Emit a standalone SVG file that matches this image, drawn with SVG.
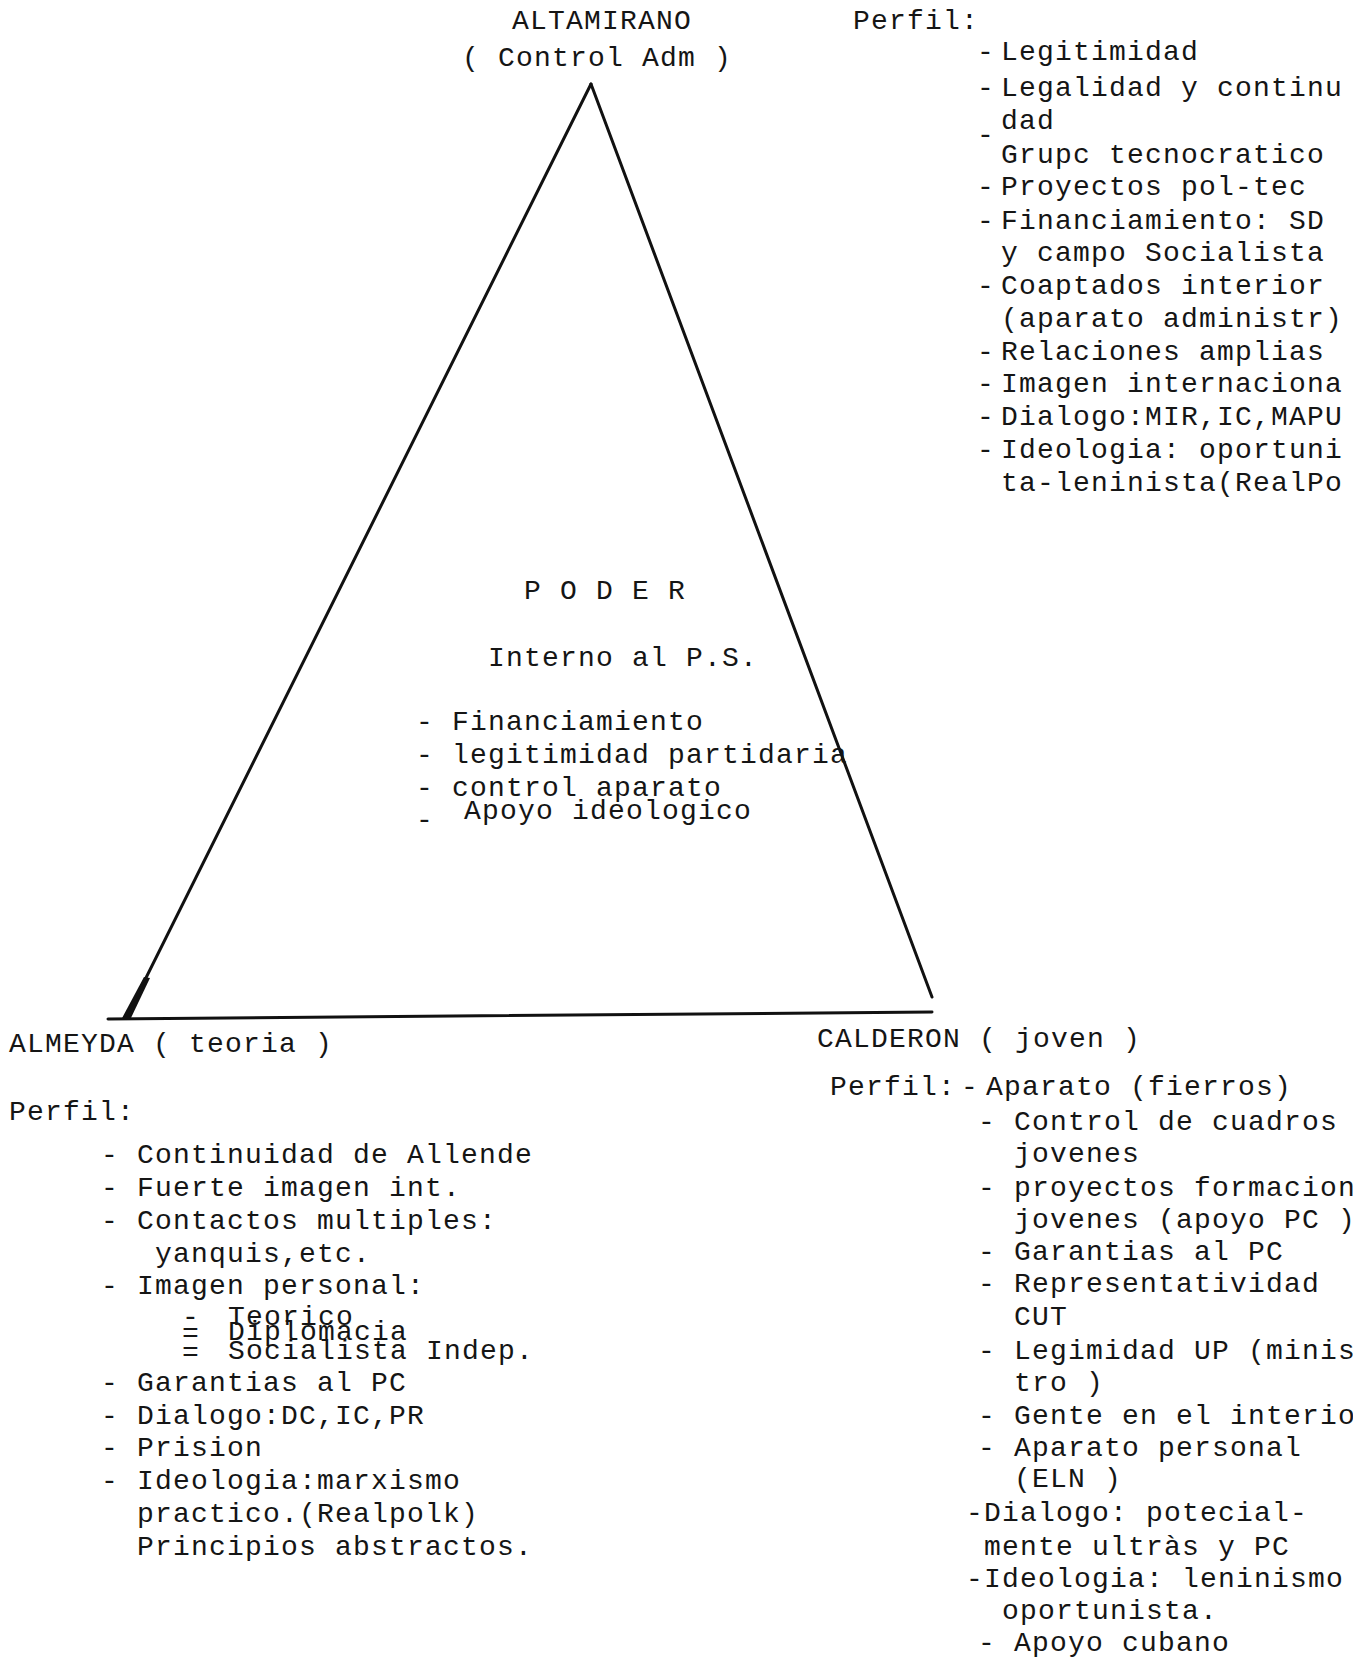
<svg xmlns="http://www.w3.org/2000/svg" width="1353" height="1660" viewBox="0 0 1353 1660" xml:space="preserve">
<style>
.t{font-family:"Liberation Mono","Courier New",monospace;font-size:28px;letter-spacing:1.2px;fill:#151515;white-space:pre}
.ln{stroke:#111;stroke-width:3;fill:none;stroke-linecap:round}
</style>
<rect width="1353" height="1660" fill="#fff"/>
<g id="connectors">
<line class="ln" x1="591" y1="84" x2="126" y2="1018"/>
<line class="ln" x1="591" y1="84" x2="932" y2="997"/>
<line class="ln" x1="108" y1="1019" x2="932" y2="1012" stroke-width="3.5"/>
<polygon points="121,1020 130,1020 150,978 144,977" fill="#111"/>
</g>
<g id="node-altamirano">
<text class="t" x="512" y="29">ALTAMIRANO</text>
<text class="t" x="462" y="66">( Control Adm )</text>
</g>
<g id="node-altamirano-perfil">
<text class="t" x="853" y="29">Perfil:</text>
<text class="t" x="977" y="60">- <tspan x="1001">Legitimidad</tspan></text>
<text class="t" x="977" y="96">- <tspan x="1001">Legalidad y continu</tspan></text>
<text class="t" x="1001" y="129">dad</text>
<text class="t" x="977" y="143">-</text>
<text class="t" x="1001" y="163">Grupc tecnocratico</text>
<text class="t" x="977" y="195">- <tspan x="1001">Proyectos pol-tec</tspan></text>
<text class="t" x="977" y="229">- <tspan x="1001">Financiamiento: SD</tspan></text>
<text class="t" x="1001" y="261">y campo Socialista</text>
<text class="t" x="977" y="294">- <tspan x="1001">Coaptados interior</tspan></text>
<text class="t" x="1001" y="327">(aparato administr)</text>
<text class="t" x="977" y="360">- <tspan x="1001">Relaciones amplias</tspan></text>
<text class="t" x="977" y="392">- <tspan x="1001">Imagen internaciona</tspan></text>
<text class="t" x="977" y="425">- <tspan x="1001">Dialogo:MIR,IC,MAPU</tspan></text>
<text class="t" x="977" y="458">- <tspan x="1001">Ideologia: oportuni</tspan></text>
<text class="t" x="1001" y="491">ta-leninista(RealPo</text>
</g>
<g id="node-poder">
<text class="t" x="524" y="599">P O D E R</text>
<text class="t" x="488" y="666">Interno al P.S.</text>
<text class="t" x="416" y="730">- Financiamiento</text>
<text class="t" x="416" y="763">- legitimidad partidaria</text>
<text class="t" x="416" y="796">- control aparato</text>
<text class="t" x="416" y="828">-</text>
<text class="t" x="464" y="819">Apoyo ideologico</text>
</g>
<g id="node-almeyda">
<text class="t" x="9" y="1052">ALMEYDA ( teoria )</text>
<text class="t" x="9" y="1120">Perfil:</text>
<text class="t" x="101" y="1163">- Continuidad de Allende</text>
<text class="t" x="101" y="1196">- Fuerte imagen int.</text>
<text class="t" x="101" y="1229">- Contactos multiples:</text>
<text class="t" x="101" y="1262">   yanquis,etc.</text>
<text class="t" x="101" y="1294">- Imagen personal:</text>
<text class="t" x="182" y="1325">- <tspan x="228">Teorico</tspan></text>
<text class="t" x="182" y="1342">= <tspan x="228" dy="-2">Diplomacia</tspan></text>
<text class="t" x="182" y="1361">= <tspan x="228" dy="-2">Socialista Indep.</tspan></text>
<text class="t" x="101" y="1391">- Garantias al PC</text>
<text class="t" x="101" y="1424">- Dialogo:DC,IC,PR</text>
<text class="t" x="101" y="1456">- Prision</text>
<text class="t" x="101" y="1489">- Ideologia:marxismo</text>
<text class="t" x="101" y="1522">  practico.(Realpolk)</text>
<text class="t" x="101" y="1555">  Principios abstractos.</text>
</g>
<g id="node-calderon">
<text class="t" x="817" y="1047">CALDERON ( joven )</text>
<text class="t" x="830" y="1095">Perfil: <tspan x="961">-</tspan> <tspan x="986">Aparato (fierros)</tspan></text>
<text class="t" x="978" y="1130">- Control de cuadros</text>
<text class="t" x="978" y="1162">  jovenes</text>
<text class="t" x="978" y="1196">- proyectos formacion</text>
<text class="t" x="978" y="1228">  jovenes (apoyo PC )</text>
<text class="t" x="978" y="1260">- Garantias al PC</text>
<text class="t" x="978" y="1292">- Representatividad</text>
<text class="t" x="978" y="1325">  CUT</text>
<text class="t" x="978" y="1359">- Legimidad UP (minis</text>
<text class="t" x="978" y="1391">  tro )</text>
<text class="t" x="978" y="1424">- Gente en el interior</text>
<text class="t" x="978" y="1456">- Aparato personal</text>
<text class="t" x="978" y="1487">  (ELN )</text>
<text class="t" x="966" y="1521">-Dialogo: potecial-</text>
<text class="t" x="966" y="1555"> mente ultràs y PC</text>
<text class="t" x="966" y="1587">-Ideologia: leninismo</text>
<text class="t" x="966" y="1619">  oportunista.</text>
<text class="t" x="978" y="1651">- Apoyo cubano</text>
</g>
</svg>
